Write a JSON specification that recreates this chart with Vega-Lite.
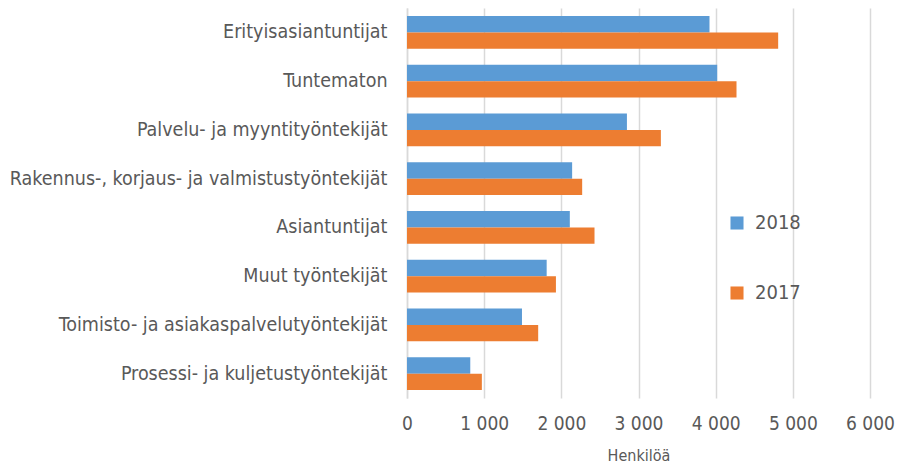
{
  "$schema": "https://vega.github.io/schema/vega-lite/v6.json",
  "width": 463,
  "height": 390,
  "autosize": {"type": "none"},
  "padding": {"left": 407, "top": 8, "right": 27, "bottom": 73},
  "background": "white",
  "config": {
    "view": {"stroke": null},
    "font": "DejaVu Sans Condensed, Roboto, sans-serif"
  },
  "data": {
    "values": [
      {"ammatti": "Erityisasiantuntijat", "vuosi": "2018", "henkiloa": 3920},
      {"ammatti": "Erityisasiantuntijat", "vuosi": "2017", "henkiloa": 4810},
      {"ammatti": "Tuntematon", "vuosi": "2018", "henkiloa": 4020},
      {"ammatti": "Tuntematon", "vuosi": "2017", "henkiloa": 4270},
      {"ammatti": "Palvelu- ja myyntityöntekijät", "vuosi": "2018", "henkiloa": 2850},
      {"ammatti": "Palvelu- ja myyntityöntekijät", "vuosi": "2017", "henkiloa": 3290},
      {"ammatti": "Rakennus-, korjaus- ja valmistustyöntekijät", "vuosi": "2018", "henkiloa": 2140},
      {"ammatti": "Rakennus-, korjaus- ja valmistustyöntekijät", "vuosi": "2017", "henkiloa": 2270},
      {"ammatti": "Asiantuntijat", "vuosi": "2018", "henkiloa": 2110},
      {"ammatti": "Asiantuntijat", "vuosi": "2017", "henkiloa": 2430},
      {"ammatti": "Muut työntekijät", "vuosi": "2018", "henkiloa": 1810},
      {"ammatti": "Muut työntekijät", "vuosi": "2017", "henkiloa": 1930},
      {"ammatti": "Toimisto- ja asiakaspalvelutyöntekijät", "vuosi": "2018", "henkiloa": 1490},
      {"ammatti": "Toimisto- ja asiakaspalvelutyöntekijät", "vuosi": "2017", "henkiloa": 1700},
      {"ammatti": "Prosessi- ja kuljetustyöntekijät", "vuosi": "2018", "henkiloa": 820},
      {"ammatti": "Prosessi- ja kuljetustyöntekijät", "vuosi": "2017", "henkiloa": 970}
    ]
  },
  "mark": {"type": "bar"},
  "encoding": {
    "y": {
      "field": "ammatti",
      "type": "nominal",
      "sort": null,
      "scale": {"paddingInner": 0.33, "paddingOuter": 0.165},
      "axis": {
        "title": null,
        "ticks": false,
        "domainColor": "#D9D9D9",
        "domainWidth": 1.5,
        "labelFontSize": 19.5,
        "labelColor": "#595959",
        "labelPadding": 20,
        "labelLimit": 420
      }
    },
    "yOffset": {"field": "vuosi", "type": "nominal", "sort": ["2018", "2017"]},
    "x": {
      "field": "henkiloa",
      "type": "quantitative",
      "scale": {"domain": [0, 6000], "nice": false},
      "axis": {
        "title": "Henkilöä",
        "titleFontSize": 16,
        "titleFontWeight": "normal",
        "titleColor": "#595959",
        "titlePadding": 14,
        "values": [0, 1000, 2000, 3000, 4000, 5000, 6000],
        "labelExpr": "replace(format(datum.value, ',d'), ',', ' ')",
        "labelFontSize": 19,
        "labelColor": "#595959",
        "labelPadding": 16,
        "labelFlush": false,
        "labelOverlap": false,
        "ticks": false,
        "domain": false,
        "grid": true,
        "gridColor": "#D9D9D9",
        "gridWidth": 1.5
      }
    },
    "color": {
      "field": "vuosi",
      "type": "nominal",
      "sort": ["2018", "2017"],
      "scale": {"domain": ["2018", "2017"], "range": ["#5B9BD5", "#ED7D31"]},
      "legend": {
        "title": null,
        "orient": "none",
        "legendX": 320,
        "legendY": 205,
        "symbolType": "square",
        "symbolSize": 170,
        "symbolStrokeWidth": 0,
        "labelFontSize": 20,
        "labelColor": "#595959",
        "labelOffset": 8,
        "rowPadding": 50
      }
    }
  }
}
